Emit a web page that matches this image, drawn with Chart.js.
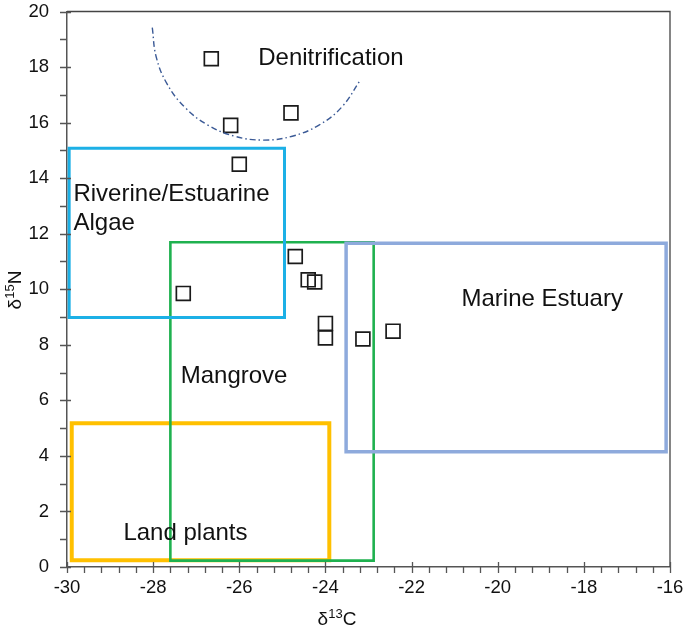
<!DOCTYPE html>
<html>
<head>
<meta charset="utf-8">
<script src="https://cdn.jsdelivr.net/npm/chart.js@4"></script>
<style>
  html, body { margin: 0; padding: 0; background: #fff; }
</style>
</head>
<body>
<canvas id="isoChart" width="685" height="630"></canvas>
<script>
// sample values (d13C, d15N)
var sampleC = [-26.65, -26.2, -24.8, -26.0, -27.3, -24.7, -24.4, -24.25, -24.0, -24.0, -23.13, -22.43];
var sampleN = [18.3, 15.9, 16.35, 14.5, 9.85, 11.18, 10.34, 10.26, 8.77, 8.25, 8.21, 8.49];

// source boxes: [min, max] on each axis
var riverineC = [-29.95, -24.95], riverineN = [8.98, 15.08];
var mangroveC = [-27.6, -22.88], mangroveN = [0.23, 11.69];
var marineC = [-23.52, -16.09], marineN = [4.15, 11.66];
var landC = [-29.89, -23.91], landN = [0.24, 5.18];

// denitrification curve
var denitC = [-28.02, -27.93, -27.68, -27.27, -26.73, -26.11, -25.44, -24.77, -24.15, -23.62, -23.18];
var denitN = [19.42, 18.37, 17.40, 16.56, 15.91, 15.51, 15.37, 15.51, 15.91, 16.56, 17.55];

// text labels and where they sit (left edge, baseline)
var regionLabels = ['Denitrification', 'Riverine/Estuarine', 'Algae', 'Marine Estuary', 'Mangrove', 'Land plants'];
var labelC = [-25.56, -29.85, -29.85, -20.84, -27.36, -28.69];
var labelN = [18.06, 13.16, 12.15, 9.4, 6.61, 0.96];

var xRange = [-30, -16];
var yRange = [0, 20];

function toPoints(cs, ns) {
    var pts = [];
    for (var i = 0; i < cs.length; i++) pts.push({ x: cs[i], y: ns[i] });
    return pts;
}

function boxPoints(cs, ns) {
    return toPoints([cs[0], cs[1], cs[1], cs[0], cs[0]], [ns[0], ns[0], ns[1], ns[1], ns[0]]);
}

function boxSet(label, cs, ns, color, width) {
    return {
        label: label,
        data: boxPoints(cs, ns),
        showLine: true,
        borderColor: color,
        borderWidth: width,
        borderJoinStyle: 'miter',
        borderCapStyle: 'square',
        pointRadius: 0,
        pointHoverRadius: 0,
        fill: false,
        tension: 0
    };
}

var FONT = '"Liberation Sans", Arial, sans-serif';

// ticks, frame, labels and axis titles
var decorPlugin = {
    id: 'decor',
    afterDatasetsDraw: function (chart) {
        var ctx = chart.ctx;
        var xs = chart.scales.x, ys = chart.scales.y;
        var a = chart.chartArea;
        ctx.save();

        // top and right frame
        ctx.strokeStyle = '#444';
        ctx.lineWidth = 1.3;
        ctx.beginPath();
        ctx.moveTo(a.left, a.top);
        ctx.lineTo(a.right, a.top);
        ctx.lineTo(a.right, a.bottom);
        ctx.stroke();

        // tick marks
        ctx.strokeStyle = '#555';
        ctx.lineWidth = 1.3;
        ctx.beginPath();
        for (var v = xRange[0]; v <= xRange[1] + 0.001; v += 0.4) {
            var px = Math.round(xs.getPixelForValue(v)) + 0.5;
            var major = Math.abs(v / 2 - Math.round(v / 2)) < 0.01;
            ctx.moveTo(px, major ? a.bottom - 5 : a.bottom);
            ctx.lineTo(px, a.bottom + 6);
        }
        for (var w = yRange[0]; w <= yRange[1]; w += 1) {
            var py = Math.round(ys.getPixelForValue(w)) + 0.5;
            ctx.moveTo(a.left - 7, py);
            ctx.lineTo(w % 2 === 0 ? a.left + 4 : a.left, py);
        }
        ctx.stroke();

        // region labels
        ctx.fillStyle = '#111';
        ctx.font = '24px ' + FONT;
        ctx.textAlign = 'left';
        ctx.textBaseline = 'alphabetic';
        for (var i = 0; i < regionLabels.length; i++) {
            ctx.fillText(regionLabels[i], xs.getPixelForValue(labelC[i]), ys.getPixelForValue(labelN[i]));
        }

        // axis titles with superscripts
        function isoTitle(parts, cx, base) {
            var big = '19px ' + FONT, small = '13px ' + FONT;
            ctx.font = big; var w1 = ctx.measureText(parts[0]).width;
            var w3 = ctx.measureText(parts[2]).width;
            ctx.font = small; var w2 = ctx.measureText(parts[1]).width;
            var x0 = cx - (w1 + w2 + w3) / 2;
            ctx.font = big; ctx.fillText(parts[0], x0, base);
            ctx.font = small; ctx.fillText(parts[1], x0 + w1, base - 7);
            ctx.font = big; ctx.fillText(parts[2], x0 + w1 + w2, base);
        }
        isoTitle(['δ', '13', 'C'], 337, 625);
        ctx.translate(21, 290);
        ctx.rotate(-Math.PI / 2);
        isoTitle(['δ', '15', 'N'], 0, 0);

        ctx.restore();
    }
};

var ctx = document.getElementById('isoChart').getContext('2d');
var chart = new Chart(ctx, {
    type: 'scatter',
    data: {
        datasets: [
            boxSet('Riverine/Estuarine Algae', riverineC, riverineN, '#1cb0e6', 3),
            boxSet('Marine Estuary', marineC, marineN, '#8eaadc', 3.5),
            boxSet('Mangrove', mangroveC, mangroveN, '#1fb14f', 2.6),
            boxSet('Land plants', landC, landN, '#ffc000', 4),
            {
                label: 'Denitrification',
                data: toPoints(denitC, denitN),
                showLine: true,
                borderColor: '#3b5a96',
                borderWidth: 1.4,
                borderDash: [6, 3, 1.5, 3],
                pointRadius: 0,
                pointHoverRadius: 0,
                tension: 0.4,
                fill: false
            },
            {
                label: 'Samples',
                data: toPoints(sampleC, sampleN),
                pointStyle: 'rect',
                pointRadius: 9.8,
                pointHoverRadius: 9.8,
                pointBorderWidth: 1.7,
                borderColor: '#1a1a1a',
                backgroundColor: 'rgba(0,0,0,0)',
                showLine: false
            }
        ]
    },
    options: {
        responsive: false,
        animation: false,
        events: [],
        layout: { padding: { top: 8, right: 15, left: 0, bottom: 0 } },
        plugins: {
            legend: { display: false },
            tooltip: { enabled: false }
        },
        scales: {
            x: {
                type: 'linear',
                min: xRange[0],
                max: xRange[1],
                grid: { display: false, drawTicks: false },
                border: { display: true, color: '#555', width: 1.5 },
                ticks: {
                    stepSize: 2,
                    padding: 10,
                    color: '#111',
                    font: { family: FONT, size: 18.5 }
                },
                afterFit: function (s) { s.height = 63; s.paddingLeft = 0; s.paddingRight = 0; }
            },
            y: {
                type: 'linear',
                min: yRange[0],
                max: yRange[1],
                grid: { display: false, drawTicks: false },
                border: { display: true, color: '#555', width: 1.5 },
                ticks: {
                    stepSize: 2,
                    padding: 18,
                    color: '#111',
                    font: { family: FONT, size: 18.5 }
                },
                afterFit: function (s) { s.width = 67; s.paddingTop = 0; s.paddingBottom = 0; }
            }
        }
    },
    plugins: [decorPlugin]
});
</script>
</body>
</html>
